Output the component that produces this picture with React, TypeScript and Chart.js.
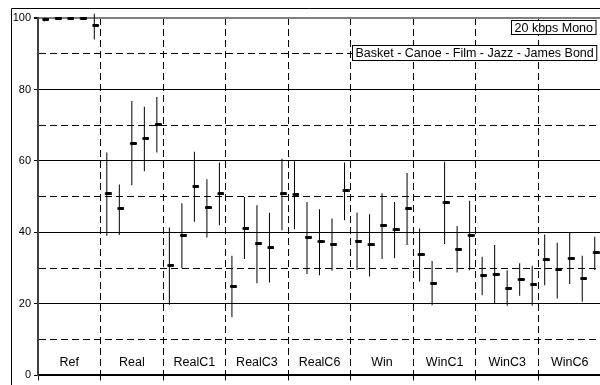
import React, { useEffect, useRef } from 'react';
import { Chart, registerables } from 'chart.js';

Chart.register(...registerables);

const categories = ['Ref', 'Real', 'RealC1', 'RealC3', 'RealC6', 'Win', 'WinC1', 'WinC3', 'WinC6'];
const samples = ['Basket', 'Canoe', 'Film', 'Jazz', 'James Bond'];
const titleText = '20 kbps Mono';
const legendText = samples.join(' - ');

// mean score per category, one value per sample
const meanScores = [
  [99.6, 100, 100, 100, 98.0],
  [50.8, 46.6, 64.9, 66.3, 70.2],
  [30.8, 39.2, 52.8, 46.9, 50.8],
  [24.9, 41.2, 36.8, 35.7, 50.8],
  [50.6, 38.7, 37.4, 36.7, 51.6],
  [37.6, 36.5, 41.9, 40.7, 46.6],
  [33.8, 25.8, 48.3, 35.3, 39.2],
  [28.0, 28.3, 24.4, 26.9, 25.3],
  [32.3, 29.5, 32.8, 27.1, 34.3],
];
// lower end of confidence interval
const lowScores = [
  [99.0, 100, 100, 100, 94.0],
  [39.1, 39.3, 53.2, 57.1, 62.4],
  [19.8, 30.0, 43.0, 38.6, 42.0],
  [16.3, 32.6, 25.8, 26.0, 40.6],
  [40.9, 28.4, 28.0, 29.3, 43.4],
  [29.5, 27.7, 32.6, 32.8, 36.5],
  [26.3, 19.6, 36.8, 28.8, 29.4],
  [22.4, 20.0, 19.5, 22.3, 19.5],
  [25.2, 21.5, 25.6, 20.6, 29.5],
];
// upper end of confidence interval
const highScores = [
  [100, 100, 100, 100, 101.2],
  [62.4, 53.4, 76.8, 75.2, 77.9],
  [41.4, 48.2, 62.6, 54.9, 59.6],
  [33.5, 49.9, 47.6, 45.5, 60.6],
  [59.9, 48.5, 46.5, 43.9, 59.6],
  [45.6, 45.1, 51.0, 48.5, 56.6],
  [41.1, 32.0, 59.8, 41.8, 48.9],
  [33.2, 36.5, 29.4, 31.4, 30.7],
  [39.4, 37.1, 40.0, 33.5, 38.8],
];
const yMin = 0;
const yMax = 100;
const yStep = 10;
const yLabelStep = 20;

const FONT = '"Liberation Sans", Arial, sans-serif';

function makeMarker(): HTMLCanvasElement {
  const c = document.createElement('canvas');
  c.width = 10;
  c.height = 3;
  const g = c.getContext('2d')!;
  g.fillStyle = '#000';
  if ((g as any).roundRect) {
    g.beginPath();
    (g as any).roundRect(3, 0, 7, 3, 1.2);
    g.fill();
  } else {
    g.fillRect(3, 0, 7, 3);
  }
  return c;
}

const framePlugin = {
  id: 'frame',
  beforeDraw(chart: any) {
    const { ctx } = chart;
    ctx.save();
    ctx.fillStyle = '#fff';
    ctx.fillRect(0, 0, chart.width, chart.height);
    ctx.strokeStyle = '#000';
    ctx.lineWidth = 1;
    ctx.beginPath();
    ctx.moveTo(11.5, chart.height + 5);
    ctx.lineTo(11.5, 8.5);
    ctx.lineTo(chart.width + 5, 8.5);
    ctx.stroke();
    ctx.restore();
  },
};

const overlayPlugin = {
  id: 'overlay',
  afterDatasetsDraw(chart: any) {
    const { ctx, chartArea } = chart;
    const x = chart.scales.x;
    ctx.save();
    ctx.fillStyle = '#000';
    ctx.font = `12.5px ${FONT}`;
    ctx.textAlign = 'center';
    ctx.textBaseline = 'alphabetic';
    const n = samples.length;
    categories.forEach((c, i) => {
      ctx.fillText(c, x.getPixelForValue(i * n + n / 2), chartArea.bottom - 9.5);
    });

    const right = 596;
    const drawBox = (text: string, top: number, h: number, baseline: number) => {
      const w = ctx.measureText(text).width + 6;
      const left = Math.round(right - w) + 0.5;
      ctx.fillStyle = '#fff';
      ctx.fillRect(left, top, w, h);
      ctx.strokeStyle = '#000';
      ctx.lineWidth = 1;
      ctx.strokeRect(left, top, w, h);
      ctx.fillStyle = '#000';
      ctx.textAlign = 'left';
      ctx.fillText(text, left + 3, baseline);
    };
    drawBox(titleText, 20.5, 14, 32);
    drawBox(legendText, 45.5, 15, 56.5);
    ctx.restore();
  },
};

export default function App() {
  const ref = useRef<HTMLCanvasElement>(null);

  useEffect(() => {
    if (!ref.current) return;
    const n = samples.length;
    const rangeData: any[] = [];
    const meanData: any[] = [];
    categories.forEach((_, c) => {
      samples.forEach((__, i) => {
        const xv = c * n + i + 0.5;
        rangeData.push({ x: xv, y: [lowScores[c][i], highScores[c][i]] });
        meanData.push({ x: xv, y: meanScores[c][i] });
      });
    });
    const marker = makeMarker();

    const chart = new Chart(ref.current, {
      type: 'bar',
      data: {
        datasets: [
          {
            type: 'bar',
            label: 'range',
            data: rangeData,
            backgroundColor: '#000',
            borderWidth: 0,
            barThickness: 1,
            inflateAmount: 0,
            clip: false,
            order: 1,
          } as any,
          {
            type: 'scatter',
            label: 'mean',
            data: meanData,
            pointStyle: marker,
            pointRadius: 4,
            pointHoverRadius: 4,
            clip: false,
            order: 0,
          } as any,
        ],
      },
      plugins: [framePlugin, overlayPlugin],
      options: {
        responsive: false,
        animation: false,
        events: [],
        layout: { padding: { left: 0, top: 18, right: 4, bottom: 0 } },
        plugins: {
          legend: { display: false },
          tooltip: { enabled: false },
          title: { display: false },
        },
        scales: {
          x: {
            type: 'linear',
            min: 0,
            max: categories.length * n,
            offset: false,
            position: 'bottom',
            ticks: { stepSize: n, display: false },
            grid: {
              offset: false,
              color: (ctx: any) => (ctx.tick && ctx.tick.value === 0 ? 'transparent' : '#000'),
              lineWidth: 1,
              tickLength: 5,
              tickColor: '#000',
              drawTicks: true,
            },
            border: {
              display: true,
              color: '#000',
              width: 2,
              dash: (ctx: any) => (ctx.tick && ctx.tick.value > 0 ? [7, 4] : []),
            },
            afterFit: (s: any) => {
              s.height = 7;
            },
          },
          y: {
            type: 'linear',
            min: yMin,
            max: yMax,
            ticks: {
              stepSize: yStep,
              autoSkip: false,
              padding: 3,
              color: '#000',
              font: { family: FONT, size: 11 },
              callback: (v: any) => (Number(v) % yLabelStep === 0 ? String(v) : ''),
            },
            grid: {
              color: (ctx: any) => (ctx.tick && ctx.tick.value === yMax ? '#808080' : '#000'),
              lineWidth: (ctx: any) => (ctx.tick && ctx.tick.value === yMax ? 2 : 1),
              tickLength: 4,
              tickColor: (ctx: any) =>
                ctx.tick && ctx.tick.value % yLabelStep === 0 ? '#000' : 'transparent',
            },
            border: {
              display: true,
              color: '#404040',
              width: 2,
              dash: (ctx: any) => (ctx.tick && ctx.tick.value % yLabelStep !== 0 ? [7, 4] : []),
            },
            afterFit: (s: any) => {
              s.width = 38;
            },
          },
        },
      } as any,
    });
    return () => chart.destroy();
  }, []);

  return (
    <div
      style={{
        position: 'fixed',
        left: 0,
        top: 0,
        width: 600,
        height: 385,
        overflow: 'hidden',
        background: '#fff',
      }}
    >
      <canvas
        ref={ref}
        width={606}
        height={385}
        style={{ position: 'absolute', left: 0, top: 0, width: 606, height: 385 }}
      />
    </div>
  );
}
